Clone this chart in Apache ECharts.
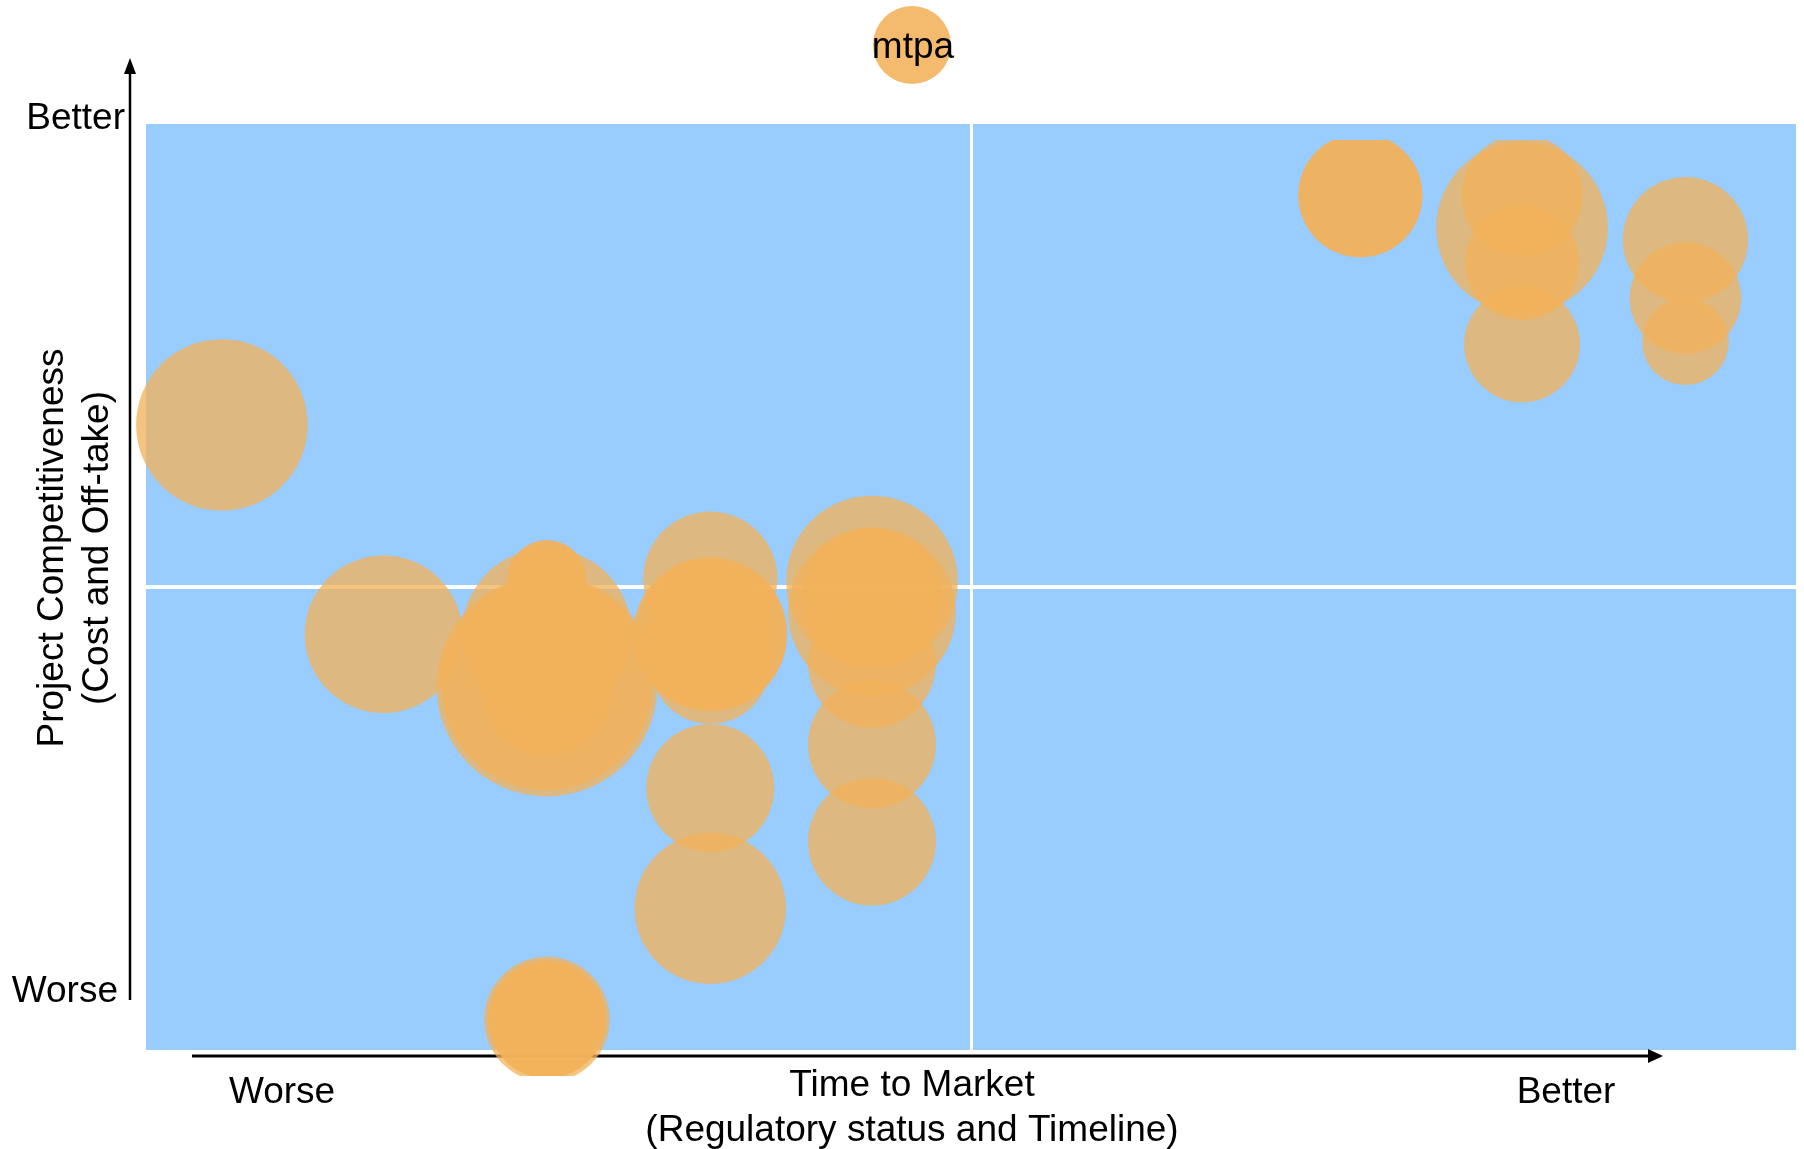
<!DOCTYPE html>
<html>
<head>
<meta charset="utf-8">
<title>Project positioning: competitiveness vs time to market</title>
<script src="https://cdn.jsdelivr.net/npm/echarts@6/dist/echarts.min.js"></script>
<style>
  html, body { margin: 0; padding: 0; background: #ffffff; }
  #chart { width: 1804px; height: 1149px; }
</style>
</head>
<body>
<div id="chart"></div>
<script>
// Time to Market score (0 = worse, 10 = better)
const timeToMarket = [
  0.46, 1.44,
  2.43, 2.43, 2.43, 2.43, 2.43, 2.43, 2.43, 2.43, 2.43, 2.43,
  3.42, 3.42, 3.42, 3.42, 3.42, 3.42, 3.42,
  4.40, 4.40, 4.40, 4.40, 4.40, 4.40,
  7.36, 7.36,
  8.34, 8.34, 8.34, 8.34,
  9.33, 9.33, 9.33
];
// Project Competitiveness score (0 = worse, 10 = better)
const competitiveness = [
  6.75, 4.49,
  5.08, 5.08, 4.50, 3.93, 3.95, 4.48, 3.89, 0.33, 0.33, 0.33,
  5.09, 4.49, 4.49, 4.51, 4.17, 2.83, 1.53,
  5.06, 4.73, 4.89, 4.17, 3.30, 2.25,
  9.23, 9.23,
  8.88, 9.23, 8.50, 7.62,
  8.75, 8.12, 7.65
];
// Project capacity, mtpa (bubble area)
const capacityMtpa = [
  9.0, 7.6,
  1.9, 1.9, 8.8, 14.9, 13.7, 5.2, 5.2, 4.8, 4.2, 4.2,
  5.5, 7.2, 7.2, 5.0, 4.4, 5.0, 7.0,
  9.0, 8.6, 6.0, 5.0, 5.0, 5.0,
  4.7, 4.7,
  9.0, 4.5, 4.0, 4.1,
  4.8, 3.8, 2.3
];
const axisEnds = { x: ['Worse', 'Better'], y: ['Worse', 'Better'] };
const xTitle = 'Time to Market\n(Regulatory status and Timeline)';
const yTitle = 'Project Competitiveness\n(Cost and Off-take)';
const sizeLegend = 'mtpa';

// ---- layout & style ----
const FONT_FAMILY = '"Liberation Sans", Arial, Helvetica, sans-serif';
const FONT_SIZE = 37;
const BUBBLE_FILL = 'rgba(242,177,90,0.76)';
const QUADRANT_BLUE = '#99CCFF';
const SCORE_MIN = 0, SCORE_MAX = 10, SCORE_MID = 5;

// blue quadrant panel (pixels)
const panel = { left: 146, top: 124, right: 1796, bottom: 1050 };
// band in which bubbles are visible (pixels)
const bubbleBand = { left: 0, top: 140, right: 1804, bottom: 1076 };

const pxPerX = (panel.right - panel.left) / (SCORE_MAX - SCORE_MIN);
const pxPerY = (panel.bottom - panel.top) / (SCORE_MAX - SCORE_MIN);
// extents of the bubble grid, expressed in the same score units as the panel
const bubbleX = [
  SCORE_MIN + (bubbleBand.left - panel.left) / pxPerX,
  SCORE_MIN + (bubbleBand.right - panel.left) / pxPerX
];
const bubbleY = [
  SCORE_MIN + (panel.bottom - bubbleBand.bottom) / pxPerY,
  SCORE_MIN + (panel.bottom - bubbleBand.top) / pxPerY
];
const RADIUS_PER_SQRT_MTPA = 28.6;

const bubbles = timeToMarket.map((x, i) => [x, competitiveness[i], capacityMtpa[i]]);

const chart = echarts.init(document.getElementById('chart'), null, { renderer: 'canvas' });

const textStyle = (extra) => Object.assign({
  font: FONT_SIZE + 'px ' + FONT_FAMILY,
  fill: '#000000'
}, extra);

chart.setOption({
  animation: false,
  backgroundColor: '#ffffff',
  grid: [
    {
      left: panel.left, top: panel.top,
      width: panel.right - panel.left, height: panel.bottom - panel.top,
      show: true, backgroundColor: QUADRANT_BLUE, borderWidth: 0
    },
    {
      left: bubbleBand.left, top: bubbleBand.top,
      width: bubbleBand.right - bubbleBand.left, height: bubbleBand.bottom - bubbleBand.top
    }
  ],
  xAxis: [
    {
      gridIndex: 0, type: 'value', min: SCORE_MIN, max: SCORE_MAX, interval: SCORE_MID,
      axisLine: { show: false }, axisTick: { show: false }, axisLabel: { show: false },
      splitLine: { show: true, showMinLine: false, showMaxLine: false, lineStyle: { color: '#ffffff', width: 3 } }
    },
    { gridIndex: 1, type: 'value', min: bubbleX[0], max: bubbleX[1], show: false }
  ],
  yAxis: [
    {
      gridIndex: 0, type: 'value', min: SCORE_MIN, max: SCORE_MAX, interval: SCORE_MID,
      axisLine: { show: false }, axisTick: { show: false }, axisLabel: { show: false },
      splitLine: { show: true, showMinLine: false, showMaxLine: false, lineStyle: { color: '#ffffff', width: 4 } }
    },
    { gridIndex: 1, type: 'value', min: bubbleY[0], max: bubbleY[1], show: false }
  ],
  series: [
    {
      type: 'custom',
      name: sizeLegend,
      xAxisIndex: 1,
      yAxisIndex: 1,
      clip: true,
      silent: true,
      encode: { x: 0, y: 1 },
      data: bubbles,
      renderItem: function (params, api) {
        const c = api.coord([api.value(0), api.value(1)]);
        const r = RADIUS_PER_SQRT_MTPA * Math.sqrt(api.value(2));
        return {
          type: 'circle',
          shape: { cx: c[0], cy: c[1], r: r },
          style: { fill: BUBBLE_FILL }
        };
      }
    }
  ],
  graphic: [
    // vertical arrow
    { type: 'line', silent: true, shape: { x1: 130, y1: 1000, x2: 130, y2: 70 }, style: { stroke: '#000', lineWidth: 2.5 } },
    { type: 'polygon', silent: true, shape: { points: [[124, 74], [136, 74], [130, 58]] }, style: { fill: '#000' } },
    // horizontal arrow
    { type: 'line', silent: true, shape: { x1: 192, y1: 1056, x2: 1652, y2: 1056 }, style: { stroke: '#000', lineWidth: 3 } },
    { type: 'polygon', silent: true, shape: { points: [[1648, 1049], [1648, 1063], [1663, 1056]] }, style: { fill: '#000' } },
    // arrow end labels
    { type: 'text', silent: true, x: 125, y: 119, style: textStyle({ text: axisEnds.y[1], align: 'right', verticalAlign: 'middle' }) },
    { type: 'text', silent: true, x: 118, y: 992, style: textStyle({ text: axisEnds.y[0], align: 'right', verticalAlign: 'middle' }) },
    { type: 'text', silent: true, x: 282, y: 1093, style: textStyle({ text: axisEnds.x[0], align: 'center', verticalAlign: 'middle' }) },
    { type: 'text', silent: true, x: 1566, y: 1093, style: textStyle({ text: axisEnds.x[1], align: 'center', verticalAlign: 'middle' }) },
    // axis titles
    { type: 'text', silent: true, x: 912, y: 1108, style: textStyle({ text: xTitle, align: 'center', verticalAlign: 'middle', lineHeight: 45 }) },
    { type: 'text', silent: true, x: 75, y: 548, rotation: Math.PI / 2, style: textStyle({ text: yTitle, align: 'center', verticalAlign: 'middle', lineHeight: 45 }) },
    // bubble size key
    { type: 'circle', silent: true, shape: { cx: 912, cy: 45, r: 39 }, style: { fill: 'rgba(242,177,90,0.88)' } },
    { type: 'text', silent: true, x: 913, y: 48, style: textStyle({ text: sizeLegend, align: 'center', verticalAlign: 'middle' }) }
  ]
});
</script>
</body>
</html>
